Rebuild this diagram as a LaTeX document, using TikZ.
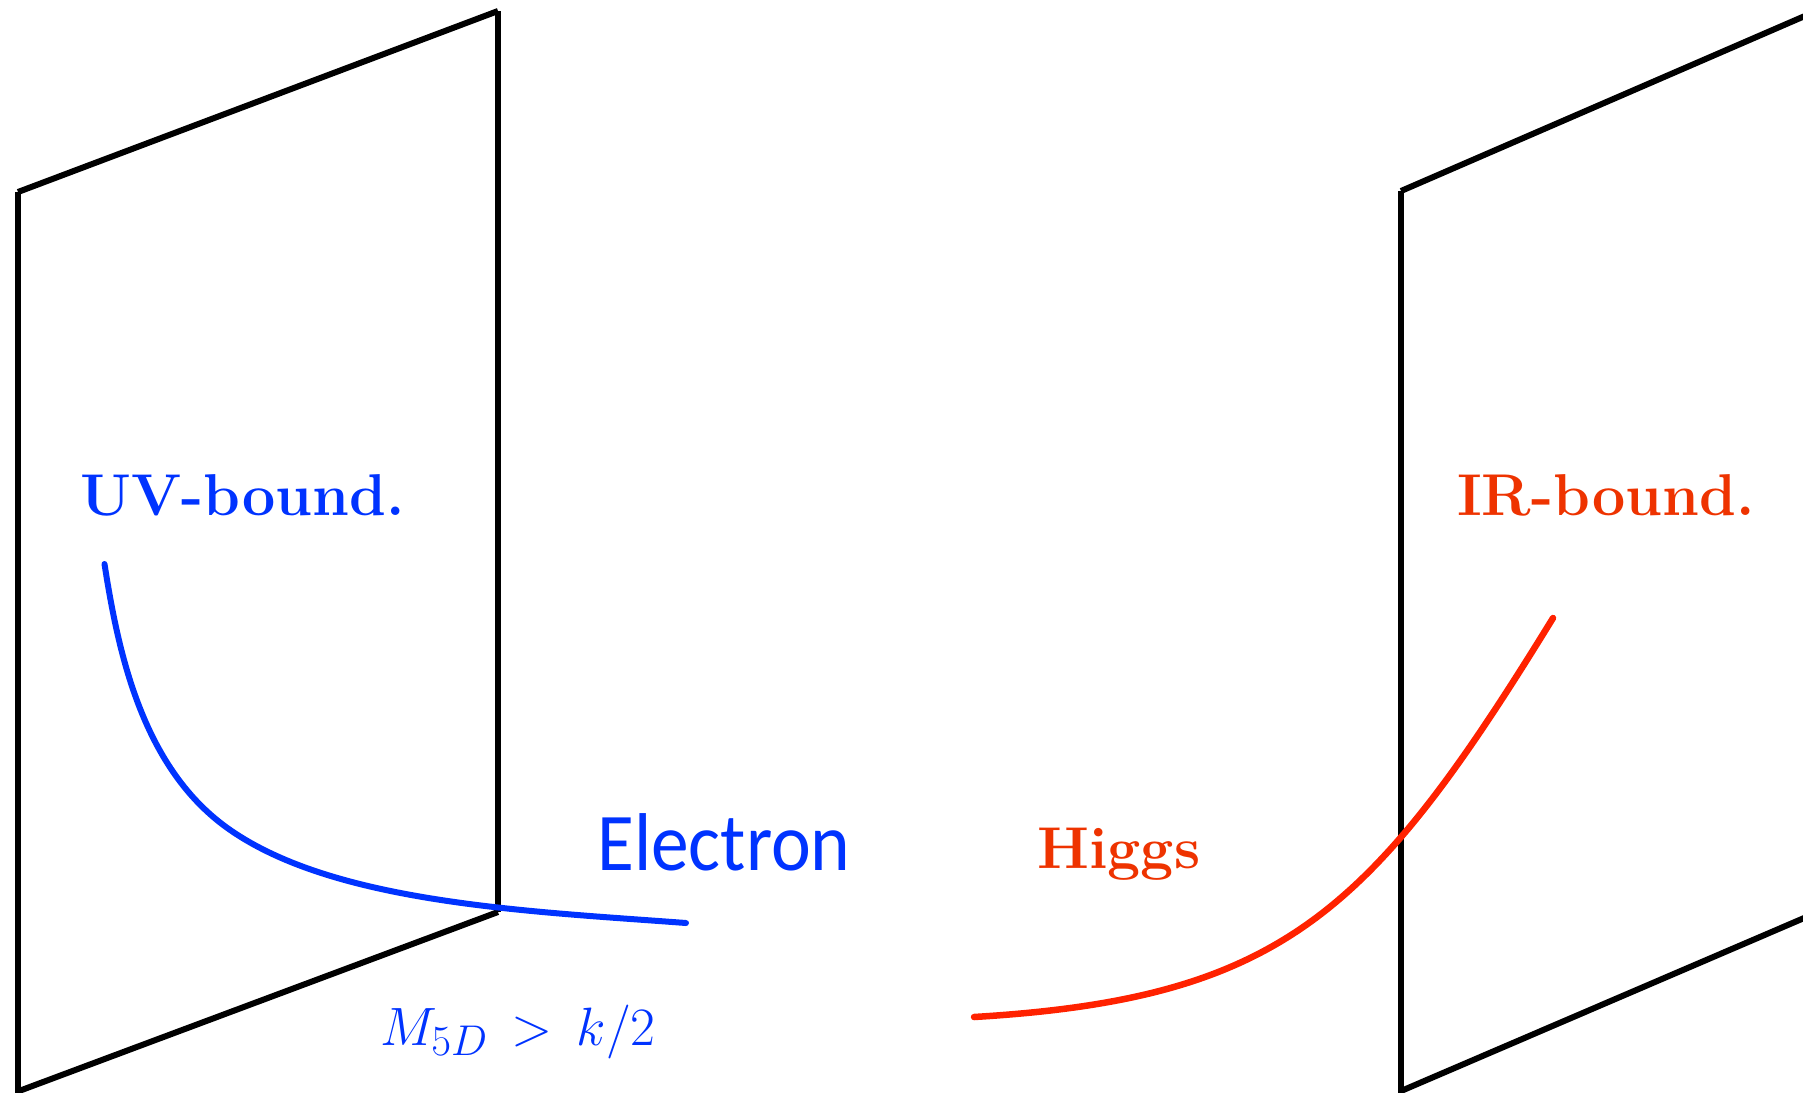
\RequirePackage{fix-cm}
\documentclass[tikz,border=0pt]{standalone}
\usepackage{graphicx}
\usepackage{fontspec}
\newfontfamily\gillfont{Carlito}
\DeclareMathSizes{54}{54}{43}{32}
\definecolor{uvblue}{RGB}{0,51,255}
\definecolor{irred}{RGB}{238,51,0}
\definecolor{higgsred}{RGB}{255,34,0}
\begin{document}
\begin{tikzpicture}[x=1pt,y=-1pt,
  planeline/.style={line width=6pt,black},
  blueline/.style={line width=6pt,uvblue,line cap=round,line join=round},
  redline/.style={line width=6.5pt,higgsred,line cap=round,line join=round},
  boldlabel/.style={inner sep=0pt,anchor=base west,font=\fontsize{59}{70}\selectfont\bfseries}]
\clip (0,0) rectangle (1803,1092);
\fill[white] (0,0) rectangle (1803,1092);
% left plane (UV)
\coordinate (ltl) at (18,192);
\coordinate (ltr) at (498,11);
\coordinate (lbr) at (498,912);
\coordinate (lbl) at (19,1091);
\draw[planeline] (ltl) -- (ltr);
\draw[planeline] (ltr) -- (lbr);
\draw[planeline] (ltl) -- (18,1095);
\draw[planeline] (lbl) -- (lbr);
% right plane (IR)
\coordinate (rtl) at (1401,191);
\coordinate (rbl) at (1401,1091);
\draw[planeline] (rtl) -- ++(480,-208);
\draw[planeline] (rtl) -- (1401,1095);
\draw[planeline] (rbl) -- ++(480,-206);
% electron profile
\coordinate (e0) at (104.5,564);
\coordinate (e1) at (226,827);
\coordinate (e2) at (686,923);
\draw[blueline] (e0) .. controls (117.8,649) and (141,765.2) .. (e1)
  .. controls (331,903.3) and (526,911) .. (e2);
% higgs profile
\coordinate (h0) at (974,1017);
\coordinate (h1) at (1553,618);
\draw[redline] (h0) .. controls (1284,998.4) and (1372.2,912) .. (h1);
% labels
\node[boldlabel,text=uvblue] (uv) at (80,515) {UV-bound.};
\node[boldlabel,text=irred] (ir) at (1457,515) {IR-bound.};
\node[boldlabel,text=irred] (higgs) at (1037,868) {Higgs};
\node[inner sep=0pt,anchor=base west,text=uvblue] (el) at (597,870)
  {\scalebox{0.92}[1]{\gillfont\fontsize{82}{90}\selectfont Electron}};
\node[inner sep=0pt,anchor=base west,text=uvblue,font=\fontsize{54}{60}\selectfont] (mass) at (380,1045)
  {$M_{5D} \mskip3mu > \mskip3mu k/2$};
\end{tikzpicture}
\end{document}
